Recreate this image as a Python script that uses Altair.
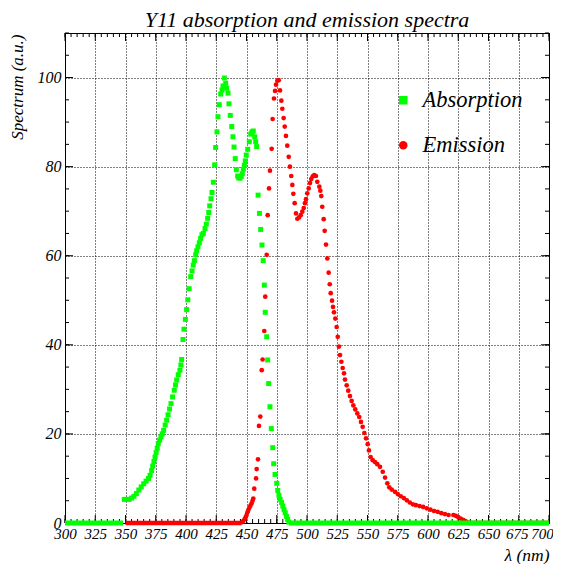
import altair as alt
import pandas as pd

# ---------------- data ----------------
absorption = [
    (349, 5.3), (351, 5.3), (353, 5.3), (355, 5.6), (357, 6.0), (359, 6.6), (361, 7.4),
    (363, 8.1), (365, 8.8), (367, 9.4), (369, 10.0), (370.3, 10.7), (371.6, 11.8),
    (372.5, 12.8), (373.5, 13.8), (374.4, 14.8), (375.3, 15.8), (376.2, 16.8), (377.1, 17.8),
    (378.2, 18.6), (379.3, 19.3), (380.4, 20.0), (381.5, 20.8), (382.8, 22.0), (384.0, 23.1),
    (385.2, 24.3), (386.4, 25.6), (387.6, 26.8), (388.9, 28.3), (390.3, 29.8), (391.3, 31.0),
    (392.3, 32.1), (393.6, 33.3), (395.0, 34.3), (395.8, 35.5), (396.4, 36.7), (397.5, 41.2),
    (398.3, 43.5), (399.5, 45.7), (400.5, 47.9), (401.5, 50.1), (402.6, 52.6), (403.9, 55.3),
    (405.0, 56.6), (406.0, 57.9), (406.9, 58.9), (408.0, 60.2), (408.8, 61.1), (409.9, 62.0),
    (411.0, 62.9), (412.1, 63.9), (413.2, 64.7), (414.3, 65.0), (415.7, 66.1), (416.8, 67.1),
    (417.9, 68.4), (418.8, 69.7), (419.6, 71.2), (420.7, 72.8), (421.5, 74.2), (422.6, 76.5),
    (423.7, 80.4), (424.5, 84.3), (425.6, 87.8), (426.4, 91.2), (427.5, 93.9), (428.7, 96.3),
    (429.8, 97.2), (430.6, 98.1), (431.7, 99.9), (432.8, 98.7), (433.6, 97.6), (434.7, 96.5),
    (435.5, 94.1), (436.6, 91.5), (437.8, 89.0), (438.8, 86.7), (439.7, 84.4), (440.7, 81.8),
    (441.6, 79.3), (442.7, 77.9), (443.5, 77.5), (444.6, 77.4), (445.7, 77.8), (446.5, 78.4),
    (447.4, 79.4), (448.2, 80.3), (449.0, 81.3), (449.8, 82.6), (451.0, 83.9), (452.3, 85.6),
    (453.5, 87.3), (454.5, 87.8), (455.6, 88.0), (456.8, 86.7), (457.6, 85.6), (458.4, 84.5),
    (459.6, 73.6), (460.7, 69.5), (461.7, 65.9), (462.8, 62.4), (463.8, 58.9), (464.7, 53.4),
    (465.5, 47.3), (466.7, 41.8), (467.5, 36.6), (468.3, 31.3), (469.4, 26.1), (470.5, 21.2),
    (471.7, 16.9), (472.5, 13.3), (473.6, 10.9), (475.0, 8.9), (475.8, 7.3), (476.8, 6.2),
    (477.8, 5.3), (479.0, 4.6), (480.0, 3.8), (481.0, 3.0), (482.0, 2.3), (483.0, 1.5),
    (484.0, 0.8), (485.0, 0.2),
]

emission = [
    (446.5, 0.2), (447.5, 0.5), (448.5, 0.9), (449.3, 1.3), (450.1, 1.8), (450.8, 2.4),
    (451.5, 2.9), (452.3, 3.4), (453.2, 3.9), (454.2, 4.4), (455.0, 5.0), (455.6, 5.5),
    (456.4, 7.7), (457.9, 10.0), (458.4, 12.1), (459.5, 14.3), (460.3, 21.8), (461.4, 23.9),
    (462.6, 34.3), (463.3, 36.7), (464.7, 43.1), (465.5, 50.8), (466.7, 60.2), (467.5, 69.1),
    (468.6, 75.1), (469.4, 79.1), (470.8, 84.0), (471.6, 90.7), (472.7, 95.3), (473.6, 97.0),
    (474.4, 98.4), (475.5, 99.3), (476.6, 99.4), (477.7, 97.1), (478.8, 94.8), (479.6, 93.0),
    (480.7, 90.9), (481.6, 89.0), (482.6, 86.9), (483.7, 84.7), (484.9, 82.2), (485.9, 80.0),
    (487.0, 77.9), (487.9, 75.9), (488.7, 73.9), (489.8, 71.8), (490.9, 69.5), (492.0, 68.3),
    (493.4, 68.6), (494.8, 69.1), (496.1, 69.9), (497.3, 70.7), (498.3, 71.8), (499.2, 72.7),
    (500.2, 74.0), (501.4, 75.1), (502.5, 76.3), (503.5, 77.2), (504.7, 77.8), (506.0, 78.1),
    (507.4, 77.9), (508.5, 76.6), (510.2, 75.5), (511.0, 74.6), (511.8, 73.4), (512.6, 71.0),
    (513.8, 68.2), (514.6, 65.6), (515.7, 62.5), (516.8, 59.4), (517.9, 56.2), (518.8, 53.6),
    (519.6, 51.6), (520.7, 49.9), (521.5, 48.5), (522.3, 47.3), (523.4, 45.9), (524.5, 44.0),
    (525.4, 41.8), (526.4, 39.6), (527.3, 37.7), (528.4, 36.2), (529.5, 34.8), (530.6, 33.6),
    (531.4, 32.2), (532.8, 30.9), (534.1, 29.7), (535.5, 28.5), (536.9, 27.4), (538.3, 26.4),
    (539.9, 25.5), (541.6, 24.6), (543.2, 23.8), (544.6, 22.7), (546.0, 21.6), (547.4, 20.2),
    (548.8, 19.0), (550.2, 17.7), (551.2, 16.3), (552.6, 14.8), (554.3, 14.1), (556.2, 13.7),
    (558.1, 13.2), (560.3, 12.6), (562.6, 11.5), (564.5, 10.2), (566.4, 8.9), (568.0, 8.0),
    (570.0, 7.5), (572.7, 7.0), (575.0, 6.5), (577.5, 6.0), (580.0, 5.6), (582.5, 5.1),
    (585.0, 4.6), (587.5, 4.2), (590.0, 4.0), (593.0, 3.8), (596.0, 3.6), (599.0, 3.3),
    (602.0, 3.0), (605.0, 2.7), (608.0, 2.5), (611.0, 2.2), (614.0, 2.0), (617.0, 1.8),
    (621.0, 1.8), (623.0, 1.6), (625.0, 1.3), (627.0, 1.0), (629.0, 0.7), (631.0, 0.4),
    (633.0, 0.1),
]

# flat zero stretches (start nm, end nm)
abs_zero = [(300, 348), (485, 700)]
em_zero = [(350, 446), (633, 700)]

series_names = ["Absorption", "Emission"]
series_colors = ["#00ff00", "#ff0000"]
series_shapes = ["square", "circle"]

x_major = list(range(300, 701, 25))
x_minor = list(range(300, 701, 5))
y_major = list(range(0, 101, 20))
y_minor = list(range(0, 111, 5))

TITLE = "Y11 absorption and emission spectra"
X_TITLE = "λ (nm)"
Y_TITLE = "Spectrum (a.u.)"

# ---------------- chart ----------------
W, H = 484, 490
FONT = "Liberation Serif"

df_abs = pd.DataFrame({"nm": [p[0] for p in absorption], "val": [p[1] for p in absorption],
                       "series": "Absorption"})
df_em = pd.DataFrame({"nm": [p[0] for p in emission], "val": [p[1] for p in emission],
                      "series": "Emission"})
df_abs0 = pd.DataFrame({"nm": [z[0] for z in abs_zero], "b": [z[1] for z in abs_zero], "val": 0})
df_em0 = pd.DataFrame({"nm": [z[0] for z in em_zero], "b": [z[1] for z in em_zero], "val": 0})

xs = alt.Scale(domain=[300, 700], nice=False, zero=False)
ys = alt.Scale(domain=[0, 110], nice=False, zero=True)

x_axis = alt.Axis(values=x_major, title=X_TITLE, grid=True, gridDash=[1, 2], gridColor="black",
                  gridOpacity=1, gridWidth=1, ticks=False, tickSize=0, domain=False,
                  labelFont=FONT, labelFontStyle="italic", labelFontSize=15, labelColor="black",
                  labelPadding=3, labelFlush=False, labelOverlap=False, labelBound=False,
                  labelOffset={"condition": [{"test": "datum.value === 700", "value": -7},
                                             {"test": "datum.value === 675", "value": -2}],
                               "value": 0},
                  titleFont=FONT, titleFontStyle="italic", titleFontSize=17.5, titleFontWeight="normal",
                  titleColor="black", titleAlign="right", titleAnchor="end", titleX=W, titleY=37,
                  titleBaseline="alphabetic")
y_axis = alt.Axis(values=y_major, title=Y_TITLE, grid=True, gridDash=[1, 2], gridColor="black",
                  gridOpacity=1, gridWidth=1, ticks=False, tickSize=0, domain=False,
                  labelFont=FONT, labelFontStyle="italic", labelFontSize=16, labelColor="black",
                  labelPadding=4, labelFlush=False, labelOverlap=False, labelBound=False,
                  titleFont=FONT, titleFontStyle="italic", titleFontSize=17, titleFontWeight="normal",
                  titleColor="black", titleAngle=270, titleAlign="right", titleBaseline="middle",
                  titleX=-47.5, titleY=1)


def X(field):
    return alt.X(field, scale=xs, axis=x_axis)


def Y(field):
    return alt.Y(field, scale=ys, axis=y_axis)


leg = alt.Legend(title=None, orient="none", legendX=327, legendY=56, padding=0,
                 labelFont=FONT, labelFontStyle="italic", labelFontSize=22.5, labelColor="black",
                 symbolSize=72, symbolStrokeWidth=0, symbolOpacity=1, rowPadding=22,
                 labelOffset=8, labelLimit=300)

color = alt.Color("series:N", scale=alt.Scale(domain=series_names, range=series_colors), legend=leg)
shape = alt.Shape("series:N", scale=alt.Scale(domain=series_names, range=series_shapes), legend=leg)


# tick marks (inward, ROOT style)
def xticks(vals, length):
    d = pd.DataFrame({"nm": vals})
    bottom = alt.Chart(d).mark_rule(color="black", strokeWidth=1).encode(
        x=X("nm:Q"), y=alt.value(H), y2=alt.value(H - length))
    top = alt.Chart(d).mark_rule(color="black", strokeWidth=1).encode(
        x=X("nm:Q"), y=alt.value(0), y2=alt.value(length))
    return [bottom, top]


def yticks(vals, length):
    d = pd.DataFrame({"val": vals})
    left = alt.Chart(d).mark_rule(color="black", strokeWidth=1).encode(
        y=Y("val:Q"), x=alt.value(0), x2=alt.value(length))
    right = alt.Chart(d).mark_rule(color="black", strokeWidth=1).encode(
        y=Y("val:Q"), x=alt.value(W), x2=alt.value(W - length))
    return [left, right]


em_zero_layer = alt.Chart(df_em0).mark_rule(color="#ff0000", strokeWidth=4.5).encode(
    x=X("nm:Q"), x2="b:Q", y=Y("val:Q"))
abs_zero_layer = alt.Chart(df_abs0).mark_rule(color="#00ff00", strokeWidth=5).encode(
    x=X("nm:Q"), x2="b:Q", y=Y("val:Q"))

em_points = alt.Chart(df_em).mark_point(filled=True, opacity=1, size=22, strokeWidth=0).encode(
    x=X("nm:Q"), y=Y("val:Q"), color=color, shape=shape)
abs_points = alt.Chart(df_abs).mark_point(filled=True, opacity=1, size=25, strokeWidth=0).encode(
    x=X("nm:Q"), y=Y("val:Q"), color=color, shape=shape)

layers = xticks(x_minor, 4) + xticks(x_major, 8) + yticks(y_minor, 4) + yticks(y_major, 8)
layers += [em_zero_layer, em_points, abs_zero_layer, abs_points]

chart = alt.layer(*layers).properties(
    width=W, height=H,
    title=alt.TitleParams(TITLE, font=FONT, fontStyle="italic", fontSize=22, fontWeight="normal",
                          color="black", anchor="middle", offset=1),
    padding={"left": 57, "top": 25, "right": 4, "bottom": 41},
    autosize=alt.AutoSizeParams(type="none"),
).configure_view(stroke="black", strokeWidth=1)

chart.save("out.html", embed_options={"renderer": "svg", "actions": False})
